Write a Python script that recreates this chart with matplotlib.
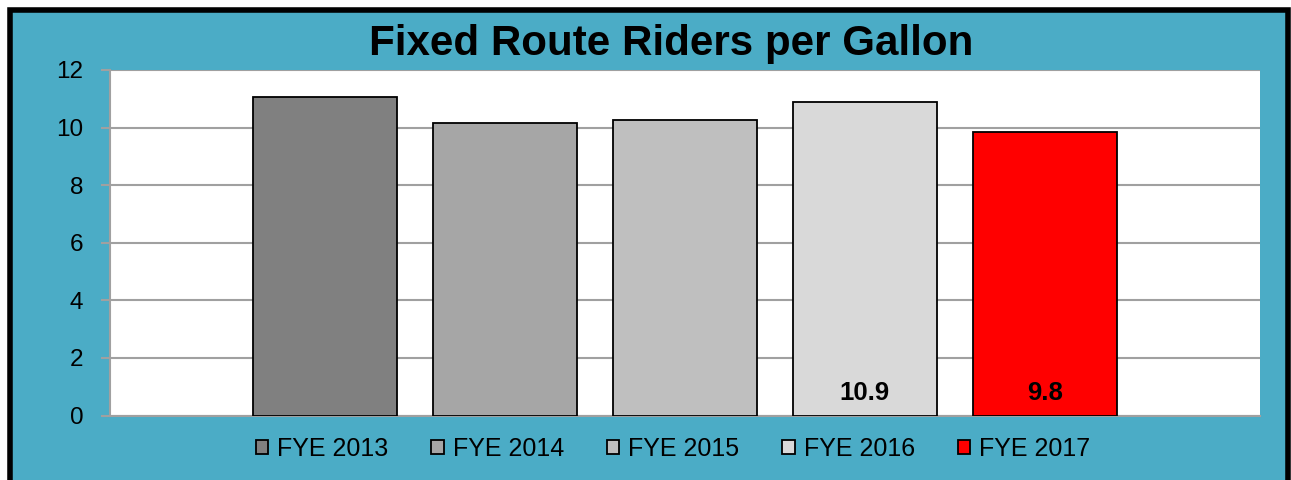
import matplotlib
matplotlib.use("Agg")
import matplotlib.pyplot as plt
from matplotlib.patches import Rectangle

plt.rcParams['font.family'] = ['Liberation Sans', 'DejaVu Sans']

title = "Fixed Route Riders per Gallon"
series = ["FYE 2013", "FYE 2014", "FYE 2015", "FYE 2016", "FYE 2017"]
values = [11.05, 10.15, 10.27, 10.90, 9.84]
colors = ["#808080", "#A6A6A6", "#BFBFBF", "#D9D9D9", "#FF0000"]
labeled = [False, False, False, True, True]
yticks = [0, 2, 4, 6, 8, 10, 12]

W, H = 1291, 480
fig = plt.figure(figsize=(W / 100, H / 100), dpi=100)
fig.patch.set_facecolor("white")

# Outer teal panel with black border
border = Rectangle((9.75 / W, -0.05), (1288 - 9.75) / W, 1 - 9.85 / H + 0.05,
                   transform=fig.transFigure, facecolor="#4BACC6",
                   edgecolor="black", linewidth=4.0, zorder=-5)
fig.patches.append(border)

ax = fig.add_axes([110 / W, 1 - 415.6 / H, (1259.5 - 110) / W, (415.6 - 70) / H])
ax.set_zorder(2)
ax.set_facecolor("white")

half = (1259.5 - 110) / 2 / 180
n = len(series)
xs = [i - (n - 1) / 2 for i in range(n)]
bars = []
for x, v, c, s in zip(xs, values, colors, series):
    b = ax.bar(x, v, width=0.8, color=c, edgecolor="black", linewidth=1.3,
               label=s, zorder=3)
    bars.append(b)

for x, v, lab in zip(xs, values, labeled):
    if lab:
        ax.annotate(f"{v:.1f}", xy=(x, 0), xytext=(0, 16.6),
                    textcoords="offset points", ha="center", va="center",
                    fontsize=18.5, fontweight="bold", color="black", zorder=4)

ax.set_xlim(-half, half)
ax.set_ylim(0, 12)
ax.set_yticks(yticks)
ax.set_xticks([])
ax.yaxis.grid(True, color="#A0A0A0", linewidth=1.5, zorder=1)
ax.set_axisbelow(True)
for sp in ["top", "right"]:
    ax.spines[sp].set_visible(False)
for sp in ["left", "bottom"]:
    ax.spines[sp].set_color("#A0A0A0")
    ax.spines[sp].set_linewidth(1.5)
ax.tick_params(axis="y", length=6.5, width=1.5, color="#A0A0A0",
               labelsize=17.5, pad=12.7, labelcolor="black")

fig.text(671 / W, 1 - 55 / H, title, ha="center", va="baseline",
         fontsize=30.3, fontweight="bold", color="black")

leg = fig.legend(handles=[b[0] for b in bars], labels=series, loc="center",
                 bbox_to_anchor=(673 / W, 1 - 449 / H), ncol=n, frameon=False,
                 fontsize=18, handlelength=0.5, handleheight=0.5,
                 handletextpad=0.35, columnspacing=1.72, borderpad=0,
                 borderaxespad=0)
for h in leg.legend_handles:
    h.set_linewidth(1.3)

fig.savefig("out.png", dpi=100, facecolor=fig.get_facecolor())
